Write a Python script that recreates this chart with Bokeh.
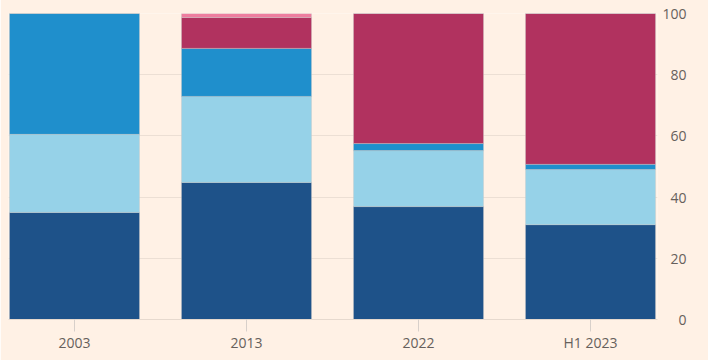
from bokeh.plotting import figure
from bokeh.models import Range1d, FixedTicker, ColumnDataSource, Legend
from bokeh.embed import file_html
from bokeh.resources import INLINE

periods = ["2003", "2013", "2022", "H1 2023"]
series = ["South Korea", "Taiwan", "Japan", "China", "Other"]
south_korea = [35.0, 44.8, 36.9, 31.0]
taiwan = [25.5, 28.1, 18.3, 18.0]
japan = [39.5, 15.7, 2.3, 1.7]
china = [0.0, 10.1, 42.5, 49.3]
other = [0.0, 1.3, 0.0, 0.0]
y_ticks = [0, 20, 40, 60, 80, 100]

colors = ["#1e5289", "#96d2e8", "#1f8fcc", "#b1325f", "#ee7d9f"]
BG = "#fff1e5"
FONT = "Open Sans"
TXT = "#66605c"
FIG_SPACE = "\u2007"

src = ColumnDataSource(dict(
    x=list(range(len(periods))),
    **{"South Korea": south_korea, "Taiwan": taiwan, "Japan": japan,
       "China": china, "Other": other},
))

p = figure(width=708, height=368, output_backend="svg", toolbar_location=None,
           x_range=Range1d(-0.3837, 3.3895), y_range=Range1d(0, 100),
           y_axis_location="right",
           background_fill_color=BG, border_fill_color=BG,
           min_border_left=8, min_border_top=21, min_border_bottom=41,
           min_border_right=51)
p.outline_line_color = None
# canvas starts 8px above the visible window so the legend is clipped as in the reference
p.styles = {"margin-top": "-8px"}

rs = p.vbar_stack(series, x="x", width=0.756, source=src, color=colors,
                  line_color="#c8c8c8", line_alpha=0.4, line_width=1)

# x axis
xa = p.xaxis[0]
xa.ticker = FixedTicker(ticks=list(range(len(periods))))
xa.major_label_overrides = {i: lab for i, lab in enumerate(periods)}
xa.axis_line_color = "#e6d9ce"
xa.major_tick_line_color = "#d8d0ca"
xa.major_tick_out = 12
xa.major_tick_in = 0
xa.minor_tick_line_color = None
xa.major_label_standoff = 1
xa.major_label_text_font = FONT
xa.major_label_text_font_size = "14px"
xa.major_label_text_color = TXT

# y axis (right), labels padded with figure spaces so they line up on the right
ya = p.yaxis[0]
ya.ticker = FixedTicker(ticks=y_ticks)
ya.major_label_overrides = {t: str(t).rjust(3, FIG_SPACE) for t in y_ticks}
ya.axis_line_color = None
ya.major_tick_line_color = None
ya.major_tick_out = 0
ya.major_tick_in = 0
ya.minor_tick_line_color = None
ya.major_label_standoff = 5
ya.major_label_text_font = FONT
ya.major_label_text_font_size = "14px"
ya.major_label_text_color = TXT

p.xgrid.grid_line_color = None
p.ygrid.ticker = FixedTicker(ticks=y_ticks)
p.ygrid.grid_line_color = "#ecdfd4"
p.ygrid.level = "underlay"

legend = Legend(items=[(name, [r]) for name, r in zip(series, rs)],
                orientation="horizontal", location=(-18, 307),
                glyph_width=20, glyph_height=7, label_standoff=10, spacing=30,
                padding=0, margin=0, label_height=20,
                label_text_font=FONT, label_text_font_size="13px",
                label_text_color=TXT, background_fill_alpha=0,
                border_line_color=None)
p.add_layout(legend)

open("out.html", "w").write(file_html(p, INLINE))
